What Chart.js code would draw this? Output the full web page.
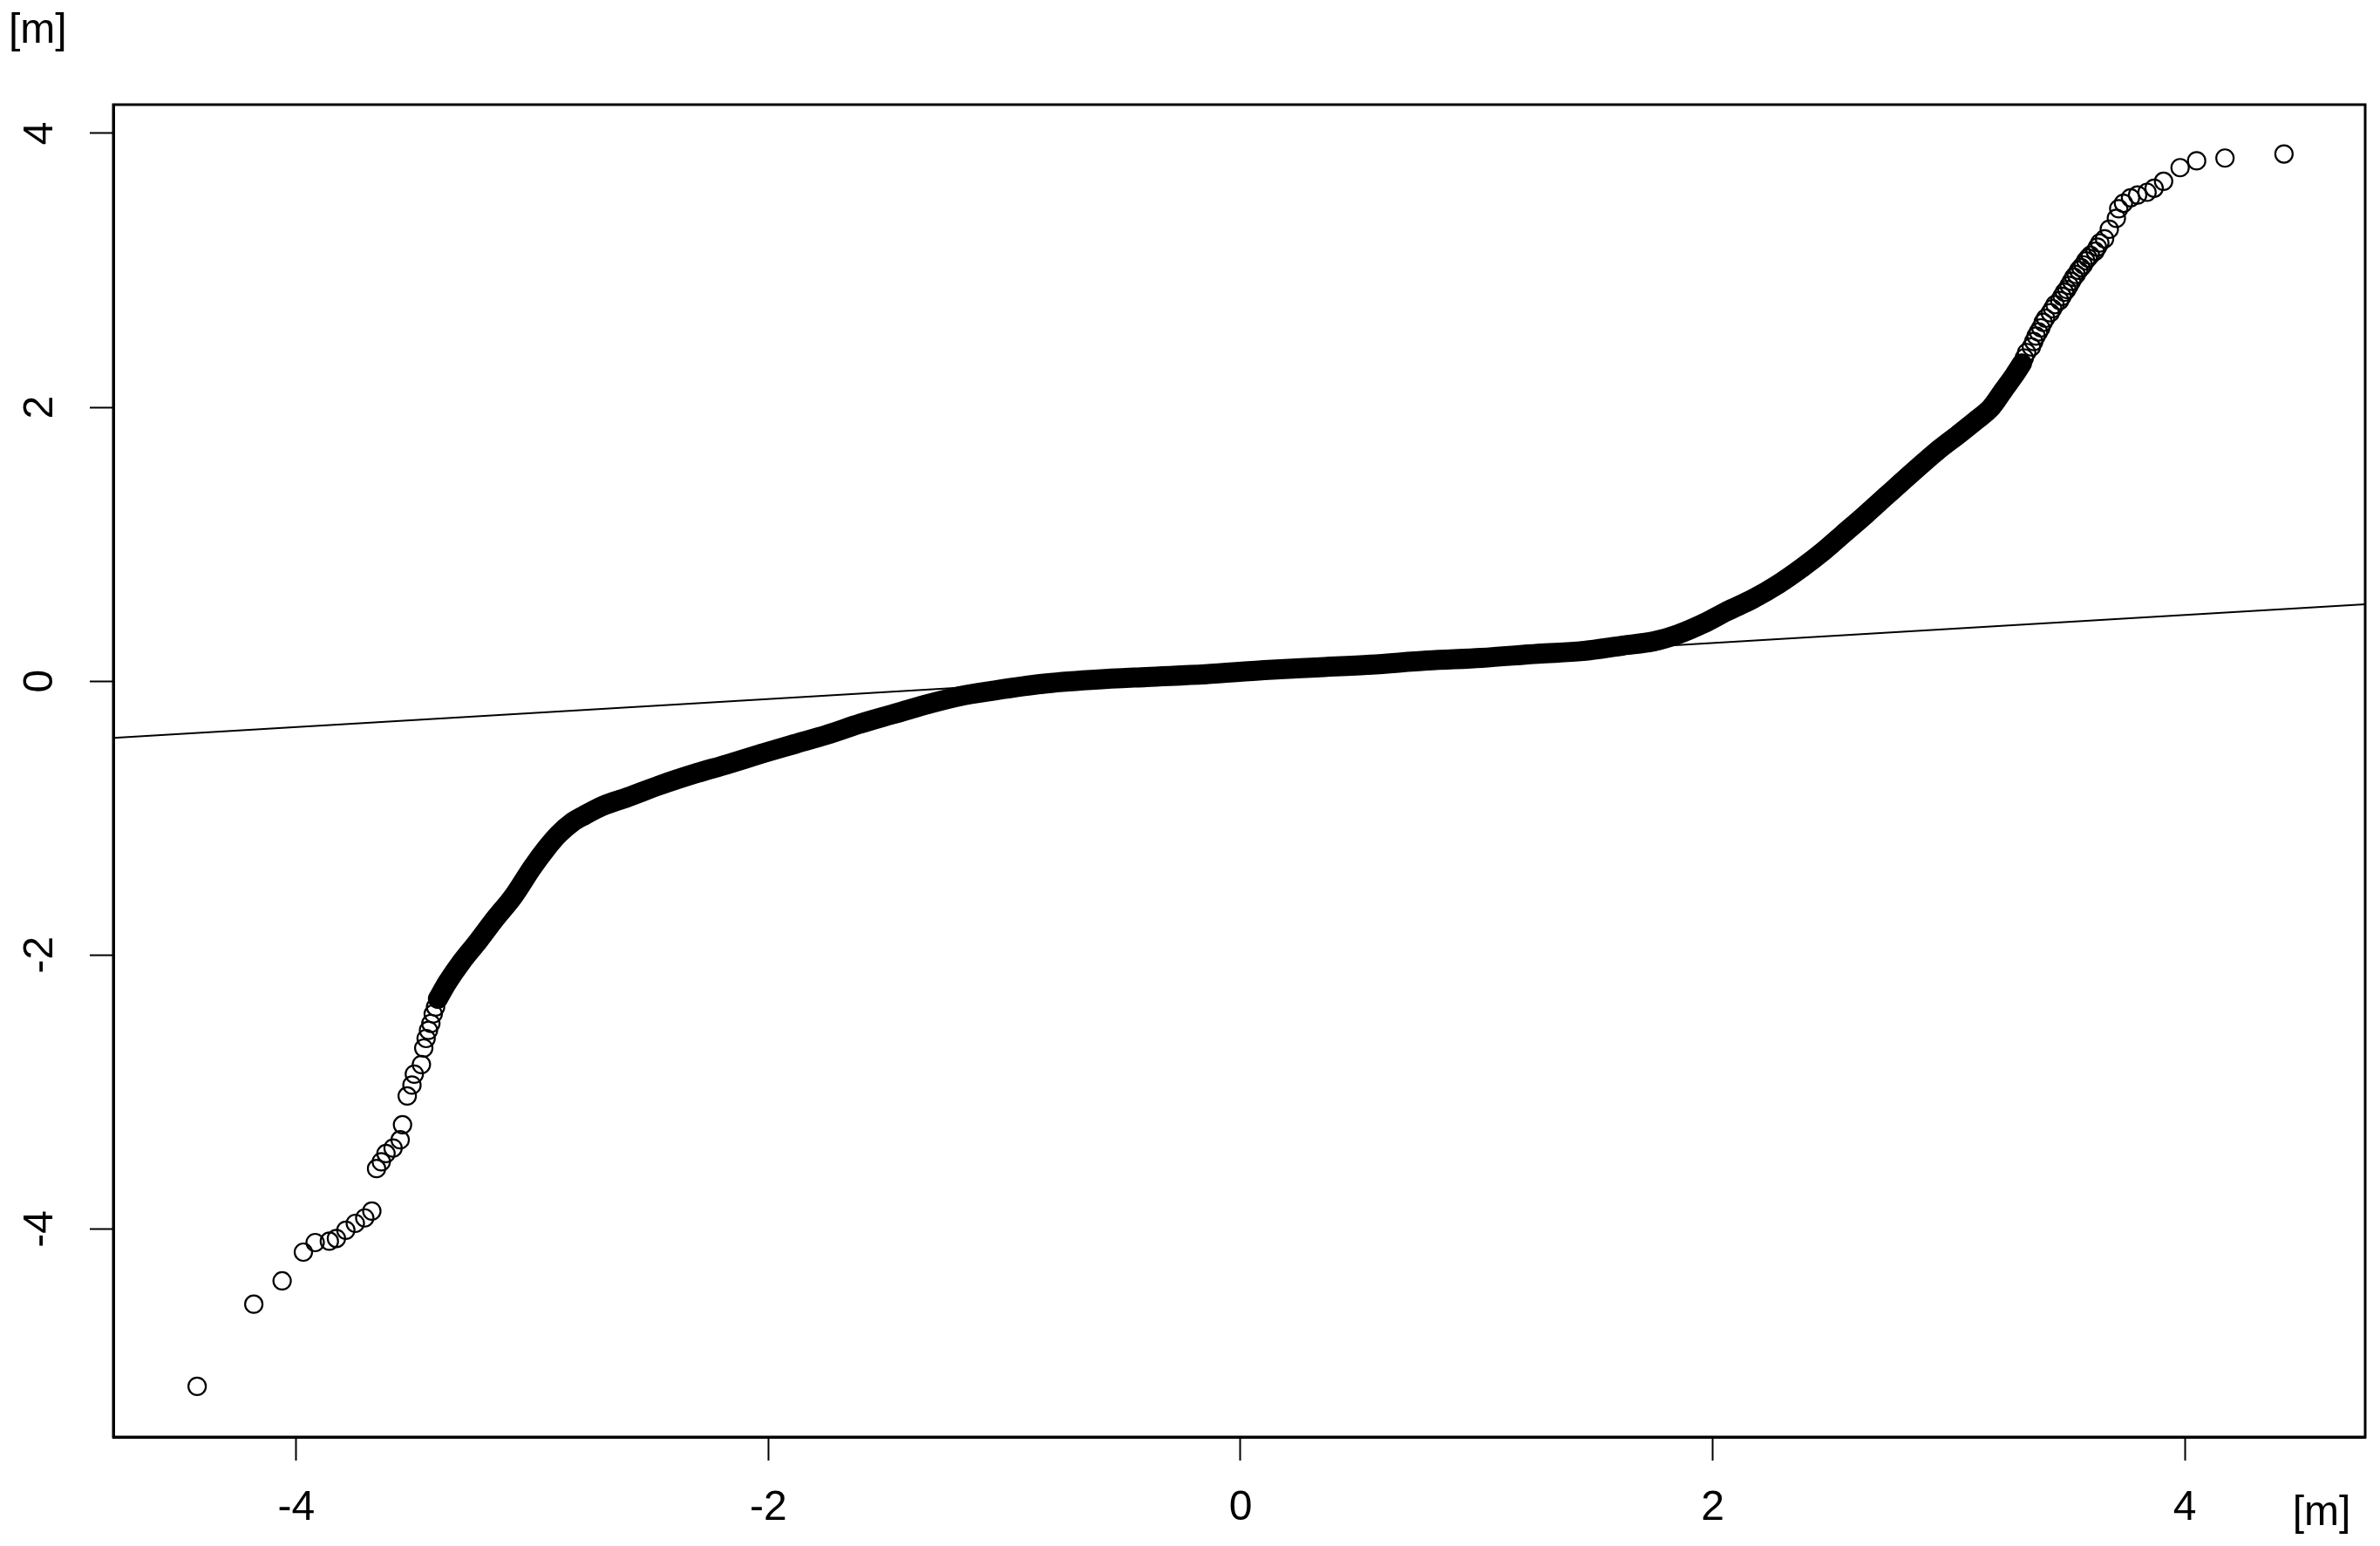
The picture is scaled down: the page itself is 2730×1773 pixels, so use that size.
<!DOCTYPE html>
<html>
<head>
<meta charset="utf-8">
<title>Q-Q plot</title>
<script src="https://cdn.jsdelivr.net/npm/chart.js@4.4.1/dist/chart.umd.min.js"></script>
<style>
  html, body { margin: 0; padding: 0; background: #fff; }
  canvas { display: block; }
</style>
</head>
<body>
<canvas id="qq-chart" width="2730" height="1773"></canvas>
<script>
// qq plot data

// lower tail, single circles
const tailLowX = [-4.42, -4.18, -4.06, -3.97, -3.92, -3.86, -3.83, -3.79, -3.75, -3.71, -3.68,
  -3.66, -3.64, -3.62, -3.59, -3.56, -3.55, -3.53, -3.51, -3.50, -3.47, -3.46, -3.45, -3.44,
  -3.43, -3.42, -3.41];
const tailLowY = [-5.15, -4.55, -4.38, -4.17, -4.10, -4.09, -4.07, -4.01, -3.96, -3.92, -3.87,
  -3.56, -3.51, -3.45, -3.41, -3.35, -3.24, -3.03, -2.95, -2.87, -2.80, -2.68, -2.61, -2.55,
  -2.50, -2.43, -2.38];

// dense middle part (the solid black band)
const coreX = [-3.40, -3.36, -3.30, -3.23, -3.16, -3.08, -3.00, -2.94, -2.89, -2.83, -2.78, -2.70,
  -2.60, -2.46, -2.30, -2.18, -2.03, -1.89, -1.75, -1.61, -1.47, -1.33, -1.19, -1.05, -0.84,
  -0.62, -0.40, -0.15, 0.10, 0.32, 0.55, 0.79, 1.02, 1.26, 1.45, 1.62, 1.75, 1.85, 1.96, 2.06,
  2.17, 2.28, 2.38, 2.47, 2.55, 2.65, 2.74, 2.85, 2.95, 3.04, 3.12, 3.18, 3.23, 3.28, 3.31];
const coreY = [-2.32, -2.20, -2.05, -1.90, -1.74, -1.57, -1.36, -1.22, -1.12, -1.03, -0.98, -0.91,
  -0.85, -0.76, -0.67, -0.61, -0.53, -0.46, -0.39, -0.31, -0.24, -0.17, -0.11, -0.07, -0.02,
  0.01, 0.03, 0.05, 0.08, 0.10, 0.12, 0.15, 0.17, 0.20, 0.22, 0.26, 0.29, 0.34, 0.42, 0.51,
  0.60, 0.71, 0.83, 0.95, 1.07, 1.22, 1.36, 1.53, 1.68, 1.80, 1.91, 2.00, 2.12, 2.24, 2.32];

// upper tail, single circles (tightly packed up to about 3.6)
const tailHighX = [3.32, 3.33, 3.35, 3.36, 3.37, 3.38, 3.39, 3.40, 3.41, 3.43, 3.44, 3.45, 3.47,
  3.48, 3.49, 3.50, 3.51, 3.52, 3.53, 3.54, 3.55, 3.56, 3.57, 3.58, 3.59, 3.60, 3.62, 3.63, 3.64,
  3.66, 3.68, 3.71, 3.72, 3.74, 3.77, 3.80, 3.84, 3.87, 3.91, 3.98, 4.05, 4.17, 4.42];
const tailHighY = [2.36, 2.40, 2.44, 2.48, 2.52, 2.55, 2.58, 2.62, 2.65, 2.69, 2.72, 2.75, 2.78,
  2.81, 2.84, 2.86, 2.89, 2.92, 2.95, 2.97, 3.00, 3.02, 3.04, 3.07, 3.09, 3.11, 3.14, 3.17, 3.20,
  3.23, 3.30, 3.38, 3.45, 3.49, 3.53, 3.55, 3.57, 3.60, 3.65, 3.75, 3.80, 3.82, 3.85];

// reference line (qqline), end points at the plot edges
const lineX = [-4.775, 4.764];
const lineY = [-0.415, 0.561];

// axes
const xRange = [-4.775, 4.764];
const yRange = [-5.52, 4.21];
const xTicks = [-4, -2, 0, 2, 4];
const yTicks = [-4, -2, 0, 2, 4];
const unitLabel = '[m]';

const FONT = '"Liberation Sans", Arial, sans-serif';

function toPoints(xs, ys) {
  return xs.map((x, i) => ({ x: x, y: ys[i] }));
}

const allX = tailLowX.concat(coreX, tailHighX);
const allY = tailLowY.concat(coreY, tailHighY);

// box around the plot, rotated y labels and the two unit labels
const rPlotStyle = {
  id: 'rPlotStyle',
  afterDraw(chart) {
    const ctx = chart.ctx;
    const area = chart.chartArea;
    ctx.save();
    ctx.strokeStyle = '#000';
    ctx.lineWidth = 3;
    ctx.strokeRect(area.left, area.top, area.right - area.left, area.bottom - area.top);

    ctx.fillStyle = '#000';
    ctx.font = '48px ' + FONT;
    ctx.textAlign = 'center';
    ctx.textBaseline = 'middle';
    const yScale = chart.scales.y;
    yTicks.forEach(v => {
      ctx.save();
      ctx.translate(47, yScale.getPixelForValue(v));
      ctx.rotate(-Math.PI / 2);
      ctx.fillText(String(v), 0, 0);
      ctx.restore();
    });

    ctx.textAlign = 'left';
    ctx.fillText(unitLabel, 10, 36);
    ctx.textAlign = 'center';
    ctx.fillText(unitLabel, 2663, 1736);
    ctx.restore();
  }
};

const ctx = document.getElementById('qq-chart').getContext('2d');
const qqChart = new Chart(ctx, {
  type: 'scatter',
  data: {
    datasets: [
      {
        label: 'qqline',
        data: toPoints(lineX, lineY),
        showLine: true,
        borderColor: '#000',
        borderWidth: 2,
        pointRadius: 0
      },
      {
        label: 'band',
        data: toPoints(coreX, coreY),
        showLine: true,
        borderColor: '#000',
        borderWidth: 23,
        borderCapStyle: 'round',
        borderJoinStyle: 'round',
        cubicInterpolationMode: 'monotone',
        pointRadius: 0
      },
      {
        label: 'sample',
        data: toPoints(allX, allY),
        showLine: false,
        pointStyle: 'circle',
        pointRadius: 10,
        borderWidth: 2.2,
        borderColor: '#000',
        backgroundColor: 'rgba(0,0,0,0)'
      }
    ]
  },
  options: {
    responsive: false,
    animation: false,
    events: [],
    layout: {
      padding: { top: 120, right: 17, left: 0, bottom: 0 }
    },
    plugins: {
      legend: { display: false },
      tooltip: { enabled: false }
    },
    scales: {
      x: {
        type: 'linear',
        min: xRange[0],
        max: xRange[1],
        afterBuildTicks: scale => { scale.ticks = xTicks.map(v => ({ value: v })); },
        afterFit: scale => { scale.height = 125; },
        grid: {
          drawOnChartArea: false,
          drawTicks: true,
          tickLength: 27,
          tickWidth: 2,
          tickColor: '#000'
        },
        border: { display: true, color: '#000', width: 3 },
        ticks: {
          color: '#000',
          padding: 26,
          maxRotation: 0,
          font: { family: FONT, size: 48 }
        }
      },
      y: {
        type: 'linear',
        min: yRange[0],
        max: yRange[1],
        afterBuildTicks: scale => { scale.ticks = yTicks.map(v => ({ value: v })); },
        afterFit: scale => { scale.width = 130; },
        grid: {
          drawOnChartArea: false,
          drawTicks: true,
          tickLength: 27,
          tickWidth: 2,
          tickColor: '#000'
        },
        border: { display: true, color: '#000', width: 3 },
        ticks: { display: false }
      }
    }
  },
  plugins: [rPlotStyle]
});
</script>
</body>
</html>
